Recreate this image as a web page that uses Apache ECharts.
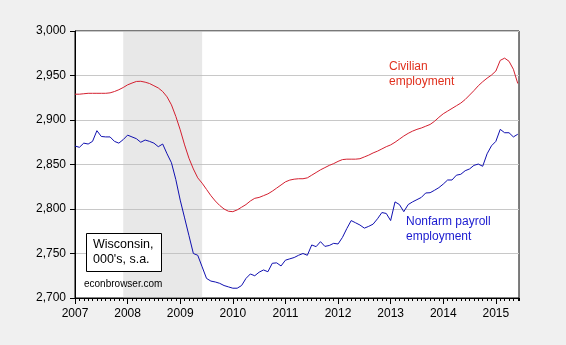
<!DOCTYPE html>
<html>
<head>
<meta charset="utf-8">
<script src="https://cdn.jsdelivr.net/npm/echarts@6/dist/echarts.min.js"></script>
<style>
  html, body { margin: 0; padding: 0; background: #f0f0f0; }
  #chart { width: 566px; height: 345px; }
</style>
</head>
<body>
<div id="chart"></div>
<script>
// Wisconsin employment, thousands, seasonally adjusted, monthly Jan 2007 - Jun 2015
const startYear = 2007;
const endYear = 2015.44;
const yearTicks = ['2007', '2008', '2009', '2010', '2011', '2012', '2013', '2014', '2015'];
const yTicks = [2700, 2750, 2800, 2850, 2900, 2950, 3000];
const recession = [2007 + 11 / 12, 2009 + 5 / 12]; // Dec 2007 - Jun 2009

const civilian = [
  2929, 2929, 2929.5, 2930, 2930, 2930, 2930, 2930, 2930.5, 2932, 2934, 2936.5,
  2939.5, 2941.5, 2943.3, 2943.5, 2942.5, 2941, 2938.5, 2936, 2932, 2926, 2917, 2904,
  2889, 2872, 2857, 2845, 2835, 2829, 2822, 2815, 2809, 2804, 2800, 2797.5,
  2797, 2799, 2802, 2805, 2809, 2812, 2813, 2815, 2817, 2820, 2823.5, 2827,
  2830.5, 2832.5, 2833.5, 2834, 2834, 2835, 2838, 2841, 2844, 2846.5, 2849, 2851,
  2853.5, 2855.5, 2856, 2856, 2856, 2856.5, 2858.5, 2860.5, 2863, 2865, 2867.5, 2870,
  2872, 2875, 2878.5, 2882, 2885, 2887.5, 2889.5, 2891, 2893, 2895, 2898.5, 2903,
  2907, 2910, 2913, 2916, 2919, 2923, 2928, 2933, 2938.5, 2943, 2947, 2950.5,
  2955, 2967, 2969.5, 2966, 2957, 2941
];

const nonfarm = [
  2870.8, 2869.3, 2874, 2873, 2876, 2888, 2881.5, 2881, 2881, 2876, 2874, 2878,
  2883, 2881, 2879, 2875, 2877.5, 2876, 2874, 2870, 2873, 2862, 2852, 2833,
  2810, 2790, 2770, 2750, 2748, 2735, 2722, 2719, 2718, 2716.5, 2714, 2712.5,
  2711, 2711, 2714, 2722, 2727, 2725, 2729, 2731.5, 2729.5, 2739, 2739.5, 2736,
  2742.5, 2744, 2745.5, 2748, 2750, 2748, 2759.6, 2757.7, 2763.3, 2758, 2759, 2761.4,
  2760.7, 2768, 2778, 2787, 2784.5, 2782, 2778.5, 2780.5, 2783, 2789, 2796, 2795,
  2787, 2808, 2805, 2797, 2805, 2808, 2810.5, 2813, 2818, 2818.3, 2821, 2824,
  2828, 2832.6, 2832.6, 2838, 2839, 2843, 2845, 2849, 2850.5, 2848, 2862, 2871,
  2876, 2889.5, 2885.7, 2885.7, 2881, 2884
];

const toPairs = arr => arr.map((v, i) => [startYear + i / 12, v]);

const chart = echarts.init(document.getElementById('chart'), null, { renderer: 'canvas' });
const font = '"Liberation Sans", Arial, sans-serif';

chart.setOption({
  backgroundColor: '#f0f0f0',
  animation: false,
  grid: {
    left: 75, right: 47, top: 31, bottom: 47,
    show: true, backgroundColor: '#ffffff', borderColor: '#000000', borderWidth: 1
  },
  xAxis: [
    {
      // yearly axis: labels and long ticks
      type: 'value',
      min: startYear,
      max: endYear,
      interval: 1,
      axisLine: { show: true, lineStyle: { color: '#000', width: 1 } },
      axisTick: { show: true, inside: false, length: 6, lineStyle: { color: '#000' } },
      splitLine: { show: false },
      axisLabel: {
        color: '#000', fontSize: 12, fontFamily: font, margin: 10,
        showMaxLabel: false,
        formatter: v => (yearTicks.includes(String(v)) ? String(v) : '')
      }
    },
    {
      // monthly axis: short ticks only
      type: 'value',
      position: 'bottom',
      min: 0,
      max: (endYear - startYear) * 12,
      interval: 1,
      axisLine: { show: false },
      axisTick: { show: true, inside: false, length: 3, lineStyle: { color: '#000' } },
      splitLine: { show: false },
      axisLabel: { show: false }
    }
  ],
  yAxis: {
    type: 'value',
    min: yTicks[0],
    max: yTicks[yTicks.length - 1],
    interval: 50,
    axisLine: { show: true, lineStyle: { color: '#000', width: 1 } },
    axisTick: { show: true, inside: false, length: 5, lineStyle: { color: '#000' } },
    splitLine: { show: true, lineStyle: { color: '#c8c8c8', width: 1 } },
    axisLabel: {
      color: '#000', fontSize: 12, fontFamily: font, margin: 9,
      formatter: v => v.toLocaleString('en-US')
    }
  },
  series: [
    {
      name: 'Civilian employment',
      type: 'line',
      xAxisIndex: 0,
      data: toPairs(civilian),
      showSymbol: false,
      lineStyle: { color: '#d42030', width: 1 },
      z: 3,
      markArea: {
        silent: true,
        itemStyle: { color: 'rgba(190,190,190,0.35)' },
        data: [[{ xAxis: recession[0] }, { xAxis: recession[1] }]]
      }
    },
    {
      name: 'Nonfarm payroll employment',
      type: 'line',
      xAxisIndex: 0,
      data: toPairs(nonfarm),
      showSymbol: false,
      lineStyle: { color: '#1010b0', width: 1 },
      z: 3
    }
  ],
  graphic: [
    {
      type: 'text', left: 389, top: 59,
      style: { text: 'Civilian\nemployment', fill: '#e0301e', font: '12px ' + font, lineHeight: 15 }
    },
    {
      type: 'text', left: 406, top: 214,
      style: { text: 'Nonfarm payroll\nemployment', fill: '#1a1ad0', font: '12px ' + font, lineHeight: 15 }
    },
    {
      type: 'rect', shape: { x: 86.5, y: 233.5, width: 75, height: 38 },
      style: { fill: '#ffffff', stroke: '#000000', lineWidth: 1 }, z: 10
    },
    {
      type: 'text', left: 93, top: 237, z: 11,
      style: { text: "Wisconsin,\n000's, s.a.", fill: '#000', font: '12.5px ' + font, lineHeight: 15 }
    },
    {
      type: 'text', left: 84, top: 279, z: 11,
      style: { text: 'econbrowser.com', fill: '#000', font: '10px ' + font }
    }
  ]
});
</script>
</body>
</html>
